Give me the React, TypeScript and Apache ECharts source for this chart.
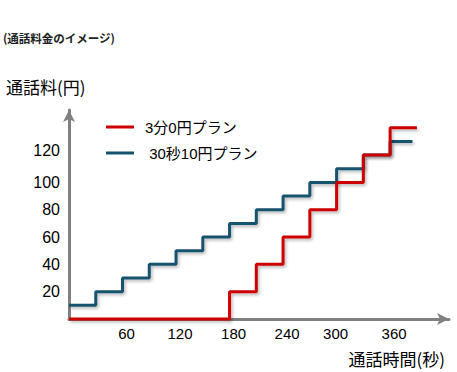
import React, { useEffect, useRef } from "react";
import * as echarts from "echarts";

const titleText = "(通話料金のイメージ)";
const yAxisName = "通話料(円)";
const xAxisName = "通話時間(秒)";

const redName = "3分0円プラン";
const blueName = " 30秒10円プラン";

// seconds / yen
const redTimes = [0, 180, 210, 240, 270, 300, 330, 360, 390];
const redFees = [0, 20, 40, 60, 80, 100, 120, 140, 140];

const blueTimes = [0, 30, 60, 90, 120, 150, 180, 210, 240, 270, 300, 330, 360, 385];
const blueFees = [10, 20, 30, 40, 50, 60, 70, 80, 90, 100, 110, 120, 130, 130];

const xTickLabels = [60, 120, 180, 240, 300, 360];
const yTickLabels = [20, 40, 60, 80, 100, 120];

const RED = "#CC0000";
const BLUE = "#17536E";
const AXIS = "#808080";
const LATIN = '"Liberation Sans", Arial, "Noto Sans CJK JP", sans-serif';
const CJK = '"Noto Sans CJK JP", "Liberation Sans", sans-serif';

const shadow = {
  shadowColor: "rgba(0,0,0,0.28)",
  shadowBlur: 3,
  shadowOffsetX: 1.5,
  shadowOffsetY: 2,
};

export default function App() {
  const ref = useRef<HTMLDivElement>(null);

  useEffect(() => {
    if (!ref.current) return;
    const chart = echarts.init(ref.current, null, { renderer: "svg" });

    const redData = redTimes.map((t, i) => [t, redFees[i]]);
    const blueData = blueTimes.map((t, i) => [t, blueFees[i]]);

    chart.setOption({
      animation: false,
      backgroundColor: "#ffffff",
      title: {
        text: titleText,
        left: 3,
        top: 32,
        padding: 0,
        textStyle: {
          fontSize: 11.5,
          fontWeight: "bold",
          color: "#222",
          fontFamily: CJK,
        },
      },
      legend: {
        orient: "vertical",
        left: 106,
        top: 119.5,
        padding: 0,
        itemGap: 11,
        itemWidth: 28,
        itemHeight: 3,
        icon: "rect",
        data: [redName, blueName],
        textStyle: {
          fontSize: 15,
          color: "#000",
          fontFamily: LATIN,
          padding: [0, 0, 0, 6],
        },
      },
      grid: {
        left: 69,
        right: 8,
        top: 110,
        bottom: 53,
        containLabel: false,
      },
      xAxis: {
        type: "value",
        min: 0,
        max: 426,
        interval: 60,
        splitLine: { show: false },
        axisTick: { show: false },
        axisLine: {
          show: true,
          symbol: ["none", "arrow"],
          symbolSize: [9, 12],
          lineStyle: { color: AXIS, width: 3 },
        },
        axisLabel: {
          margin: 7,
          fontSize: 15,
          color: "#000",
          fontFamily: LATIN,
          showMinLabel: true,
          showMaxLabel: false,
          formatter: (v: number) => {
            if (!xTickLabels.includes(v)) return "";
            if (v === 300) return "{l|" + v + "}";
            return "{r|" + v + "}";
          },
          rich: {
            r: { fontSize: 15, fontFamily: LATIN, color: "#000", padding: [0, 0, 0, 8] },
            l: { fontSize: 15, fontFamily: LATIN, color: "#000", padding: [0, 2, 0, 0] },
          },
        },
      },
      yAxis: {
        type: "value",
        min: 0,
        max: 153,
        interval: 20,
        splitLine: { show: false },
        axisTick: { show: false },
        axisLine: {
          show: true,
          symbol: ["none", "arrow"],
          symbolSize: [9, 12],
          lineStyle: { color: AXIS, width: 3 },
        },
        axisLabel: {
          margin: 9,
          fontSize: 16,
          color: "#000",
          fontFamily: LATIN,
          showMaxLabel: false,
          formatter: (v: number) => {
            if (!yTickLabels.includes(v)) return "";
            if (v === 120) return "{u|" + v + "}";
            return "{n|" + v + "}";
          },
          rich: {
            n: { fontSize: 16, fontFamily: LATIN, color: "#000" },
            u: { fontSize: 16, fontFamily: LATIN, color: "#000", padding: [0, 0, 10, 0] },
          },
        },
      },
      graphic: [
        {
          type: "text",
          x: 6,
          y: 86,
          style: {
            text: yAxisName,
            font: "17px " + CJK,
            fill: "#000",
            align: "left",
            verticalAlign: "middle",
          },
        },
        {
          type: "text",
          x: 445,
          y: 358,
          style: {
            text: xAxisName,
            font: "17px " + CJK,
            fill: "#000",
            align: "right",
            verticalAlign: "middle",
          },
        },
      ],
      series: [
        {
          name: redName,
          type: "line",
          step: "end",
          data: redData,
          showSymbol: false,
          symbol: "none",
          clip: false,
          color: RED,
          lineStyle: { color: RED, width: 3, ...shadow },
          z: 3,
        },
        {
          name: blueName,
          type: "line",
          step: "end",
          data: blueData,
          showSymbol: false,
          symbol: "none",
          clip: false,
          color: BLUE,
          lineStyle: { color: BLUE, width: 3, ...shadow },
          z: 2,
        },
      ],
    });

    return () => chart.dispose();
  }, []);

  return (
    <div
      ref={ref}
      style={{ position: "fixed", left: 0, top: 0, width: 457, height: 372 }}
    />
  );
}
